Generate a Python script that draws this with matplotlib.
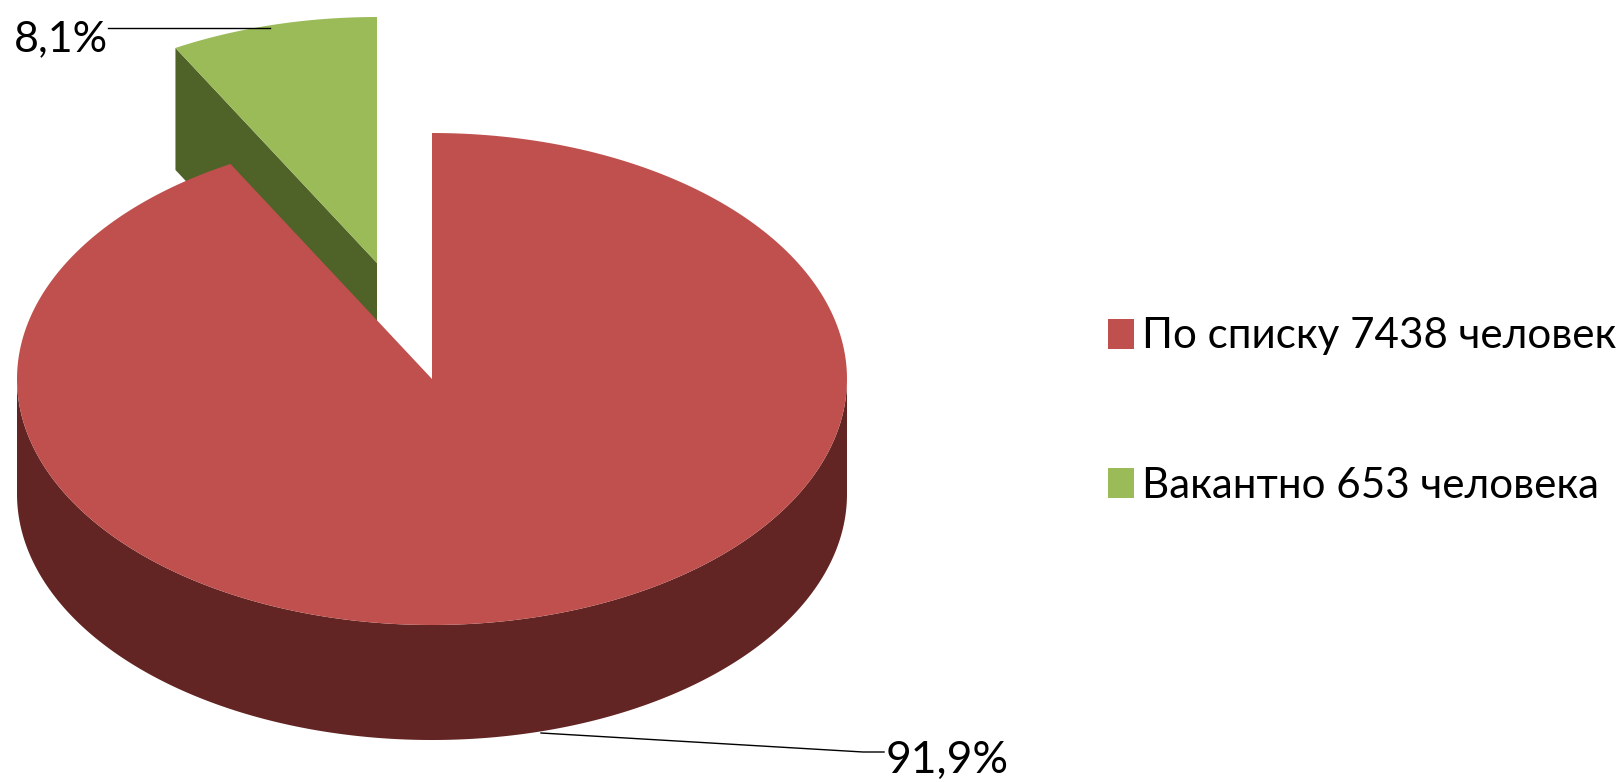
import numpy as np
import matplotlib.pyplot as plt
from matplotlib.patches import Polygon, Patch

labels = ['По списку 7438 человек', 'Вакантно 653 человека']
values = [7438, 653]
pct_labels = ['91,9%', '8,1%']

red, dark_red = '#C0504D', '#632523'
green, dark_green = '#9BBB59', '#4F6228'

# pie geometry in pixels
cx, cy = 432, 379
rx, ry = 415, 246
depth = 115
gx, gy = 377, 263     # apex of the pulled out slice
gdepth = 122

plt.rcParams['font.family'] = ['Lato', 'DejaVu Sans']
fig = plt.figure(figsize=(16.21, 7.82), dpi=100)
ax = fig.add_axes([0, 0, 1, 1])
ax.set_xlim(0, 1621)
ax.set_ylim(782, 0)
ax.axis('off')


def arc(x0, y0, a1, a2):
    t = np.radians(np.linspace(a1, a2, 300))
    return np.column_stack([x0 + rx*np.cos(t), y0 - ry*np.sin(t)])


# slices start at 12 o'clock: first clockwise, second counter clockwise
split = 90 + 360*values[1]/sum(values)

# green slice, side then top
rim = arc(gx, gy, 90, split)
ax.add_patch(Polygon([(gx, gy), (gx, gy+gdepth), (rim[-1][0], rim[-1][1]+gdepth), rim[-1]],
                     fc=dark_green, ec='none', zorder=1))
ax.add_patch(Polygon(np.vstack([[gx, gy], rim]), fc=green, ec='none', zorder=2))

# red slice, side then top
low = arc(cx, cy, 180, 360)
ax.add_patch(Polygon(np.vstack([low, (low + [0, depth])[::-1]]), fc=dark_red, ec='none', zorder=3))
ax.add_patch(Polygon(np.vstack([[cx, cy], arc(cx, cy, 90, split-360)]), fc=red, ec='none', zorder=4))

# data labels with leader lines
ax.plot([108, 270], [28, 28], color='black', lw=1, zorder=5)
ax.plot([541, 863, 884], [733, 752, 752], color='black', lw=1, zorder=5)
ax.text(14, 51, pct_labels[1], fontsize=31, ha='left', va='baseline', color='black')
ax.text(886, 773, pct_labels[0], fontsize=32, ha='left', va='baseline', color='black')

handles = [Patch(fc=red, ec='none'), Patch(fc=green, ec='none')]
ax.legend(handles, labels, loc='center left', bbox_to_anchor=(1108/1621, 1-411/782),
          frameon=False, fontsize=30.3, handlelength=0.62, handleheight=0.72,
          handletextpad=0.19, labelspacing=2.65, borderpad=0, borderaxespad=0)

fig.savefig('out.png', dpi=100)
